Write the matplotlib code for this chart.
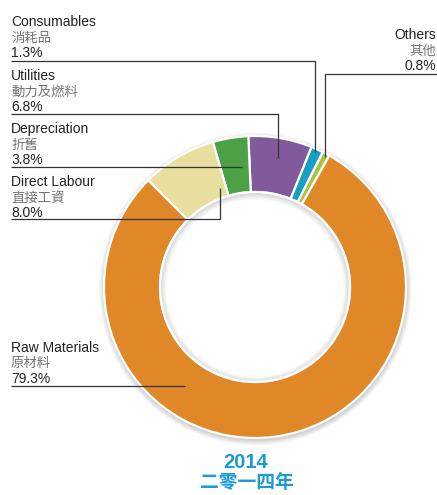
import matplotlib
matplotlib.use("Agg")
import matplotlib.pyplot as plt
from matplotlib.patches import Circle, Wedge

# ---- data ----
labels_en = ['Others', 'Consumables', 'Utilities', 'Depreciation', 'Direct Labour', 'Raw Materials']
labels_zh = ['其他', '消耗品', '動力及燃料', '折舊', '直接工資', '原材料']
values = [0.8, 1.3, 6.8, 3.8, 8.0, 79.3]
colors = ['#A9C33C', '#169FC6', '#805A9A', '#4CA146', '#E8DE9E', '#E08828']
title_year = '2014'
title_zh = '二零一四年'

W, H = 437, 495
def Y(y):
    return H - y

fig = plt.figure(figsize=(W / 100, H / 100), dpi=100)
ax = fig.add_axes([0, 0, 1, 1])

cx, cy = 255, Y(287)
R_out, R_in = 151, 95

# soft outer shadow
for i in range(10):
    ax.add_patch(Circle((cx + 0.5, cy - 2), R_out + 0.6 * i, facecolor='#000000',
                        alpha=0.018, edgecolor='none', zorder=0))
ax.add_patch(Circle((cx, cy), R_out + 0.5, facecolor='white', edgecolor='none', zorder=0.5))

ax.pie(values, colors=colors, startangle=60.5, counterclock=True, radius=R_out,
       center=(cx, cy),
       wedgeprops=dict(width=R_out - R_in, edgecolor='white', linewidth=1.6))

# soft inner shadow
for i in range(8):
    ax.add_patch(Wedge((cx, cy - 1), R_in, 0, 360, width=1 + 0.8 * i,
                       facecolor='#000000', alpha=0.02, edgecolor='none', zorder=3))
ax.add_patch(Circle((cx, cy), R_in, facecolor='none', edgecolor='white', lw=1.6, zorder=4))

ax.set_xlim(0, W)
ax.set_ylim(0, H)
ax.axis('off')

en_font = ['Liberation Sans', 'Noto Sans CJK TC']
zh_font = ['Noto Sans CJK TC', 'Liberation Sans']

# label layout (pixel positions): x, first line centre, align, leader path
layout = {
    'Others':        (436, 35, 'right', [(437, 74), (325, 74), (325, 157)]),
    'Consumables':   (11, 22, 'left', [(11, 61), (315, 61), (315, 152)]),
    'Utilities':     (11, 76, 'left', [(11, 114), (278, 114), (278, 158)]),
    'Depreciation':  (11, 129, 'left', [(11, 167), (242, 167)]),
    'Direct Labour': (11, 182, 'left', [(11, 219), (220, 219), (220, 188)]),
    'Raw Materials': (11, 348, 'left', [(11, 386), (185, 386)]),
}

for en, zh, v in zip(labels_en, labels_zh, values):
    x, y0, ha, path = layout[en]
    ax.text(x, Y(y0), en, ha=ha, va='center', fontsize=10, color='#222222', family=en_font, zorder=6)
    ax.text(x, Y(y0 + 15.5), zh, ha=ha, va='center', fontsize=9.6, color='#737373', family=zh_font, zorder=6)
    ax.text(x, Y(y0 + 31), f'{v:.1f}%', ha=ha, va='center', fontsize=10, color='#222222', family=en_font, zorder=6)
    xs = [p[0] for p in path]
    ys = [Y(p[1]) for p in path]
    ax.plot(xs, ys, color='#333333', lw=0.9, zorder=7, solid_capstyle='butt')

ax.text(246, Y(462), title_year, ha='center', va='center', fontsize=14.5, fontweight='bold',
        color='#1A9AD6', family=en_font)
ax.text(247, Y(482), title_zh, ha='center', va='center', fontsize=13.5, fontweight='bold',
        color='#1A9AD6', family=zh_font)

fig.savefig('out.png', dpi=100)
